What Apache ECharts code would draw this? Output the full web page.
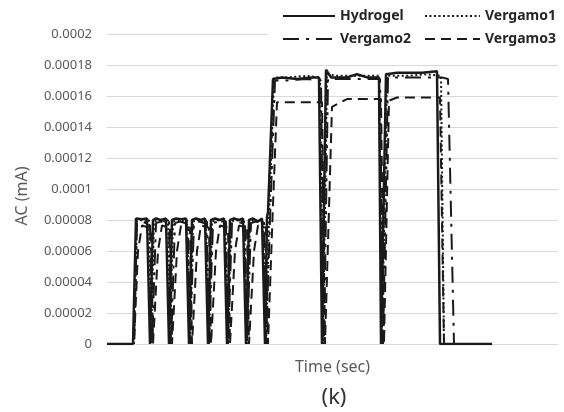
<!DOCTYPE html>
<html>
<head>
<meta charset="utf-8">
<script src="https://cdn.jsdelivr.net/npm/echarts@6/dist/echarts.min.js"></script>
<style>
html,body{margin:0;padding:0;background:#fff;}
#chart{width:564px;height:412px;}
</style>
</head>
<body>
<div id="chart"></div>
<script>
// ---- data (time in arbitrary units, AC in mA) ----
const seriesNames = ['Hydrogel', 'Vergamo1', 'Vergamo2', 'Vergamo3'];
const yTickLabels = ['0', '0.00002', '0.00004', '0.00006', '0.00008', '0.0001', '0.00012', '0.00014', '0.00016', '0.00018', '0.0002'];

const hydrogelT = [0,26,29,31,35,40,42,43, 44,46,49,54,59,61,62, 63,65,69,74,79,81,82, 83,85,89,94,98,100,101, 102,104,108,113,117,119,120, 121,123,127,132,136,138,139, 140,142,146,151,155,157,158, 159,160,161,166,175,190,205,212,215, 216,219,224,240,250,260,272,274, 276,279,290,300,315,330,331,333, 385];
const hydrogelV = [0,0,0.000081,0.000082,0.0000805,0.000081,0.00008,0, 0,0.00008,0.000081,0.00008,0.000081,0.00008,0, 0,0.00008,0.000081,0.0000805,0.000081,0.00008,0, 0,0.00008,0.000081,0.00008,0.000081,0.00008,0, 0,0.00008,0.000081,0.00008,0.000081,0.00008,0, 0,0.00008,0.000081,0.00008,0.000081,0.00008,0, 0,0.00008,0.000081,0.000079,0.000081,0.00008,0, 0,0.000082,0.000085,0.000171,0.000172,0.000171,0.000172,0.000172,0, 0,0.000177,0.000172,0.000172,0.000174,0.000172,0.000172,0, 0,0.000174,0.000175,0.000175,0.000175,0.000176,0.000175,0, 0];

const vergamo1T = [0,27,30,33,38,42,44, 45,47,52,58,61,63, 64,66,71,77,80,83, 84,86,91,96,99,102, 103,105,110,115,118,121, 122,124,129,134,137,140, 141,143,148,153,156,159, 160,162,167,180,200,213,216, 217,220,230,250,272,275, 277,280,300,320,334,337];
const vergamo1V = [0,0,0.000079,0.00008,0.000079,0.00008,0, 0,0.000079,0.00008,0.000079,0.00008,0, 0,0.000079,0.00008,0.000079,0.00008,0, 0,0.000079,0.00008,0.000079,0.00008,0, 0,0.000079,0.00008,0.000079,0.00008,0, 0,0.000079,0.00008,0.000079,0.00008,0, 0,0.000079,0.00008,0.000079,0.00008,0, 0,0.00008,0.000172,0.000172,0.000173,0.000172,0, 0,0.000174,0.000173,0.000173,0.000173,0, 0,0.000173,0.000173,0.000174,0.000173,0];

const vergamo2T = [0,27,30,34,39,43,45, 46,49,54,59,62,64, 65,68,73,78,81,83, 84,87,92,97,100,102, 103,106,111,116,119,121, 122,125,130,135,138,140, 141,144,149,154,157,159, 160,163,168,180,200,214,217, 218,221,235,255,273,276, 278,281,300,320,335,341,347];
const vergamo2V = [0,0,0.000078,0.000079,0.000078,0.000079,0, 0,0.000078,0.000079,0.000078,0.000079,0, 0,0.000078,0.000079,0.000078,0.000079,0, 0,0.000078,0.000079,0.000078,0.000079,0, 0,0.000078,0.000079,0.000078,0.000079,0, 0,0.000078,0.000079,0.000078,0.000079,0, 0,0.000078,0.000079,0.000078,0.000079,0, 0,0.00008,0.00017,0.00017,0.000171,0.00017,0, 0,0.000171,0.000171,0.000171,0.000171,0, 0,0.000172,0.000172,0.000172,0.000172,0.000171,0];

const vergamo3T = [0,27,31,35,40,44,46, 47,51,55,60,63,65, 66,70,74,79,83,85, 86,90,94,99,102,104, 105,109,113,118,121,123, 124,128,132,137,140,142, 143,147,151,156,159,161, 162,166,170,190,215,218, 219,225,240,260,274,277, 278,282,290,310,333,337];
const vergamo3V = [0,0,0.00006,0.0000765,0.0000755,0.000075,0, 0,0.00006,0.0000765,0.0000755,0.000075,0, 0,0.00006,0.0000765,0.0000755,0.000075,0, 0,0.00006,0.0000765,0.0000755,0.000075,0, 0,0.00006,0.0000765,0.0000755,0.000075,0, 0,0.00006,0.0000765,0.0000755,0.000075,0, 0,0.00006,0.0000765,0.0000755,0.000075,0, 0,0.00009,0.000156,0.000156,0.000156,0, 0,0.000153,0.000158,0.000158,0.000158,0, 0,0.000157,0.000159,0.000159,0.000159,0];

// ---- chart ----
function pairs(t, v) { return t.map((x, i) => [x, v[i]]); }
const ink = '#1a1a1a';
const styles = [
  { width: 2.5, type: 'solid' },
  { width: 2, type: [2, 2.5] },
  { width: 2, type: [16, 7, 3, 7] },
  { width: 2, type: [10, 6] }
];
const seriesData = [pairs(hydrogelT, hydrogelV), pairs(vergamo1T, vergamo1V), pairs(vergamo2T, vergamo2V), pairs(vergamo3T, vergamo3V)];

const chart = echarts.init(document.getElementById('chart'), null, { renderer: 'canvas' });
const legendText = { color: '#262626', fontSize: 14, fontWeight: 'bold', fontFamily: 'Noto Sans' };
function mkLegend(name, left, top, w) {
  return { data: [name], left: left, top: top, itemWidth: w, itemHeight: 14, itemGap: 0,
           textStyle: legendText, padding: 0, selectedMode: false,
           itemStyle: { opacity: 0, borderWidth: 0 } };
}
const option = {
  animation: false,
  backgroundColor: '#fff',
  grid: { left: 107, right: 6, top: 34, bottom: 68 },
  xAxis: {
    type: 'value', min: 0, max: 451,
    axisLabel: { show: false }, axisTick: { show: false }, splitLine: { show: false },
    axisLine: { show: true, lineStyle: { color: '#d9d9d9', width: 1 } },
    name: 'Time (sec)', nameLocation: 'middle', nameGap: 15,
    nameTextStyle: { color: '#595959', fontSize: 16, fontFamily: 'Noto Sans' }
  },
  yAxis: {
    type: 'value', min: 0, max: 0.0002, interval: 0.00002,
    axisLine: { show: false }, axisTick: { show: false },
    splitLine: { lineStyle: { color: '#d9d9d9', width: 1 } },
    axisLabel: {
      color: '#595959', fontSize: 13, fontFamily: 'Noto Sans', margin: 15,
      formatter: function (v) { return yTickLabels[Math.round(v / 0.00002)]; }
    }
  },
  legend: [
    mkLegend('Hydrogel', 282, 9, 52),
    mkLegend('Vergamo1', 424, 9, 55),
    mkLegend('Vergamo2', 282, 32, 52),
    mkLegend('Vergamo3', 424, 32, 55)
  ],
  graphic: [
    { type: 'rect', left: 268, top: 27, z: 1, shape: { width: 292, height: 14 }, style: { fill: '#fff' } },
    { type: 'text', x: 22, y: 196, rotation: Math.PI / 2, z: 5,
      style: { text: 'AC (mA)', fill: '#595959', fontSize: 16, fontFamily: 'Noto Sans', align: 'center', verticalAlign: 'middle' } },
    { type: 'text', x: 334, y: 398, z: 5,
      style: { text: '(k)', fill: '#333333', fontSize: 22, fontFamily: 'Noto Sans', align: 'center', verticalAlign: 'middle' } }
  ],
  series: seriesNames.map((n, i) => ({
    name: n, type: 'line', data: seriesData[i], showSymbol: false, symbol: 'none',
    color: ink, lineStyle: { color: ink, width: styles[i].width, type: styles[i].type },
    z: 3
  }))
};
chart.setOption(option);
</script>
</body>
</html>
